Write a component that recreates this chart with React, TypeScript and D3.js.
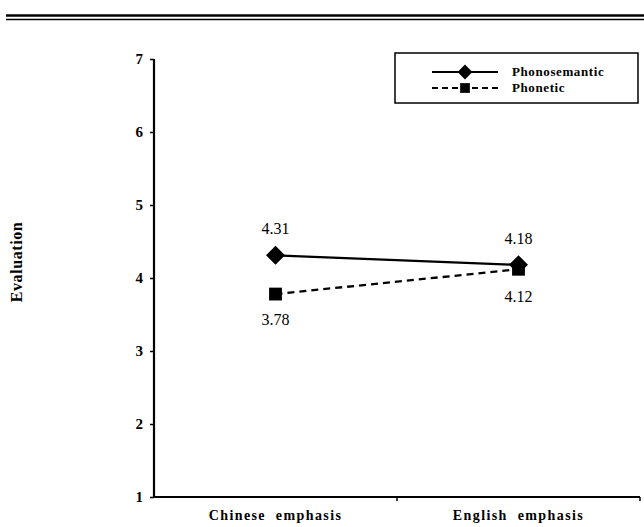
import React, { useEffect, useRef } from 'react';
import * as d3 from 'd3';

const categories = ['Chinese emphasis', 'English emphasis'];
const phonosemantic = [4.31, 4.18];
const phonetic = [3.78, 4.12];
const yTicks = [1, 2, 3, 4, 5, 6, 7];
const seriesNames = ['Phonosemantic', 'Phonetic'];

const W = 644;
const H = 527;
const FONT = '"Liberation Serif", "Times New Roman", serif';

const App: React.FC = () => {
  const svgRef = useRef<SVGSVGElement>(null);

  useEffect(() => {
    if (!svgRef.current) return;
    const svg = d3.select(svgRef.current);
    svg.selectAll('*').remove();

    const left = 154;
    const right = 640;
    const top = 59;
    const bottom = 497;

    const x = d3.scaleBand<string>().domain(categories).range([left, right]);
    const y = d3.scaleLinear().domain([1, 7]).range([bottom, top]);
    const cx = (c: string) => (x(c) as number) + x.bandwidth() / 2;

    // header rule (double line)
    svg.append('line').attr('x1', 6).attr('x2', W).attr('y1', 15.5).attr('y2', 15.5)
      .attr('stroke', '#000').attr('stroke-width', 2.5);
    svg.append('line').attr('x1', 6).attr('x2', W).attr('y1', 19.5).attr('y2', 19.5)
      .attr('stroke', '#000').attr('stroke-width', 1.3);

    // y axis
    const ya = svg.append('g').attr('transform', `translate(${left},0)`);
    ya.call(d3.axisLeft(y).tickValues(yTicks).tickSize(4).tickPadding(7).tickFormat(d3.format('d')));
    ya.select('.domain').attr('stroke-width', 2.2).attr('d', `M0,${top}V${bottom}`);
    ya.selectAll('.tick line').attr('stroke-width', 1.5);
    ya.selectAll('.tick text')
      .style('font-family', FONT).style('font-size', '15px').style('font-weight', 'bold').attr('fill', '#000');

    // x axis
    const xa = svg.append('g');
    xa.append('line').attr('x1', left).attr('x2', right).attr('y1', bottom).attr('y2', bottom)
      .attr('stroke', '#000').attr('stroke-width', 2.2);
    [left + x.bandwidth(), right].forEach(t => {
      xa.append('line').attr('x1', t).attr('x2', t).attr('y1', bottom).attr('y2', bottom + 4)
        .attr('stroke', '#000').attr('stroke-width', 1.5);
    });
    xa.selectAll('text.cat').data(categories).enter().append('text')
      .attr('class', 'cat')
      .attr('x', d => cx(d))
      .attr('y', 520)
      .attr('text-anchor', 'middle')
      .style('font-family', FONT).style('font-size', '14px').style('font-weight', 'bold')
      .style('letter-spacing', '1.4px').style('word-spacing', '5px')
      .text(d => d);

    // y label
    svg.append('text')
      .attr('transform', `translate(22,262) rotate(-90)`)
      .attr('text-anchor', 'middle')
      .style('font-family', FONT).style('font-size', '16px').style('font-weight', 'bold')
      .style('letter-spacing', '0.6px')
      .text('Evaluation');

    const line = d3.line<number>().x((_, i) => cx(categories[i])).y(d => y(d));

    // phonetic (dashed)
    svg.append('path').datum(phonetic).attr('d', line).attr('fill', 'none')
      .attr('stroke', '#000').attr('stroke-width', 2.3).attr('stroke-dasharray', '7,5');
    // phonosemantic (solid)
    svg.append('path').datum(phonosemantic).attr('d', line).attr('fill', 'none')
      .attr('stroke', '#000').attr('stroke-width', 2.3);

    const diamond = d3.symbol().type(d3.symbolDiamond2).size(230);
    const square = d3.symbol().type(d3.symbolSquare).size(165);

    svg.selectAll('path.ps').data(phonosemantic).enter().append('path')
      .attr('class', 'ps')
      .attr('d', diamond)
      .attr('transform', (d, i) => `translate(${cx(categories[i])},${y(d)})`)
      .attr('fill', '#000');
    svg.selectAll('path.ph').data(phonetic).enter().append('path')
      .attr('class', 'ph')
      .attr('d', square)
      .attr('transform', (d, i) => `translate(${cx(categories[i])},${y(d)})`)
      .attr('fill', '#000');

    // value labels
    const lab = svg.append('g')
      .style('font-family', FONT).style('font-size', '16px').attr('text-anchor', 'middle');
    phonosemantic.forEach((v, i) => {
      lab.append('text').attr('x', cx(categories[i])).attr('y', y(v) - 21).text(v.toFixed(2));
    });
    phonetic.forEach((v, i) => {
      lab.append('text').attr('x', cx(categories[i])).attr('y', y(v) + (i === 0 ? 31 : 33)).text(v.toFixed(2));
    });

    // legend
    const lg = svg.append('g');
    lg.append('rect').attr('x', 395).attr('y', 53).attr('width', 243).attr('height', 50)
      .attr('fill', '#fff').attr('stroke', '#000').attr('stroke-width', 1.5);
    const rows = [
      { name: seriesNames[0], y: 72, dash: null as string | null },
      { name: seriesNames[1], y: 88, dash: '6,4' },
    ];
    rows.forEach(r => {
      lg.append('line').attr('x1', 432).attr('x2', 498).attr('y1', r.y).attr('y2', r.y)
        .attr('stroke', '#000').attr('stroke-width', 1.8)
        .attr('stroke-dasharray', r.dash);
      lg.append('path').attr('d', r.name === seriesNames[0]
        ? d3.symbol().type(d3.symbolDiamond2).size(140)()
        : d3.symbol().type(d3.symbolSquare).size(95)())
        .attr('transform', `translate(465,${r.y})`).attr('fill', '#000');
      lg.append('text').attr('x', 512).attr('y', r.y + 4)
        .style('font-family', FONT).style('font-size', '13px').style('font-weight', 'bold')
        .style('letter-spacing', '0.6px')
        .text(r.name);
    });
  }, []);

  return (
    <svg
      ref={svgRef}
      width={W}
      height={H}
      style={{ position: 'absolute', left: 0, top: 0, background: '#fff' }}
    />
  );
};

export default App;
